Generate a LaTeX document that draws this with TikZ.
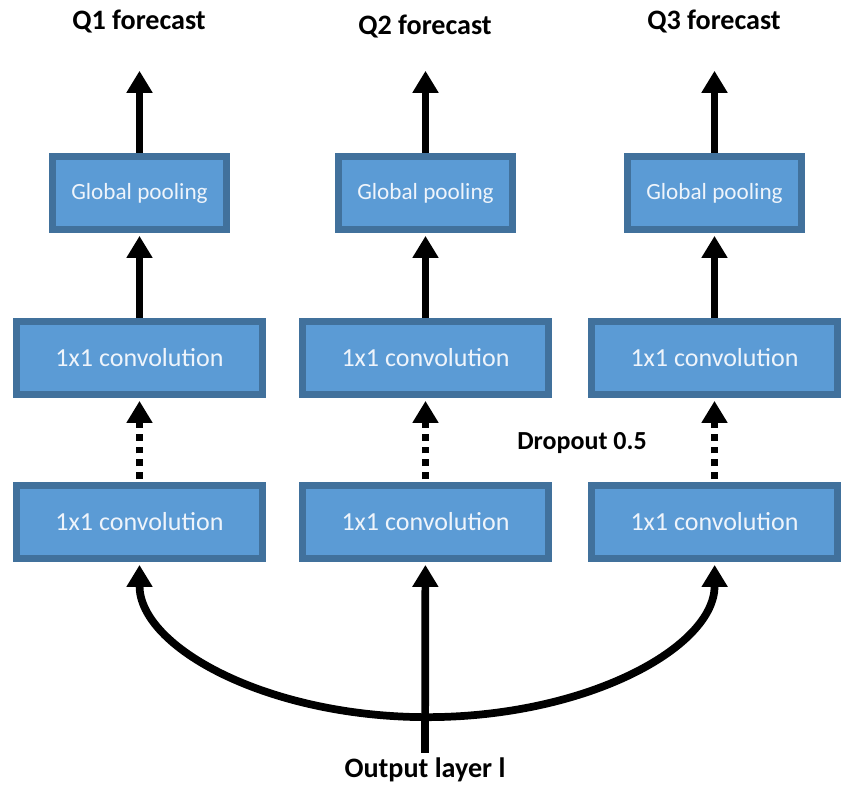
\documentclass[tikz,border=0pt]{standalone}
\usepackage{fontspec}
\usepackage{xcolor}
\usetikzlibrary{arrows.meta}
\setmainfont{Carlito}
\definecolor{boxfill}{HTML}{5B9BD5}
\definecolor{boxline}{HTML}{41719C}
\definecolor{boxtext}{HTML}{EEF4FB}

\begin{document}
\begin{tikzpicture}[x=0.025cm, y=0.025cm,
      blk/.style = {draw=boxline, fill=boxfill, line width=5pt, text=boxtext, minimum height=1.83cm},
      pool/.style = {blk, minimum width=4.35cm, font=\fontsize{16.5}{20}\selectfont},
      conv/.style = {blk, minimum width=6.15cm, font=\fontsize{18.5}{22}\selectfont},
      lbl/.style = {font=\bfseries\fontsize{20}{24}\selectfont},
      arr/.style = {line width=5.5pt, -{Triangle[length=0.55cm,width=0.62cm]}, shorten >=2pt},
      dotarr/.style = {arr, dash pattern=on 0.17cm off 0.15cm, shorten <=2pt}]
      \useasboundingbox (0,0) rectangle (843,786);
      % labels
      \node[lbl] (q1) at (139,764) {Q1 forecast};
      \node[lbl] (q2) at (425,759) {Q2 forecast};
      \node[lbl] (q3) at (714,764) {Q3 forecast};
      \node[lbl] (out) at (425,16) {Output layer l};
      \node[lbl, font=\bfseries\fontsize{18.5}{22}\selectfont] (drop) at (582,343) {Dropout 0.5};
      % blocks
      \node[pool] (p1) at (139.5,593) {Global pooling};
      \node[pool] (p2) at (425.5,593) {Global pooling};
      \node[pool] (p3) at (714.5,593) {Global pooling};
      \node[conv] (c1) at (139.5,428) {1x1 convolution};
      \node[conv] (c2) at (425.5,428) {1x1 convolution};
      \node[conv] (c3) at (714.5,428) {1x1 convolution};
      \node[conv] (b1) at (139.5,264) {1x1 convolution};
      \node[conv] (b2) at (425.5,264) {1x1 convolution};
      \node[conv] (b3) at (714.5,264) {1x1 convolution};
      % arrow ends under the labels
      \coordinate (t1) at (139.5,718);
      \coordinate (t2) at (425.5,718);
      \coordinate (t3) at (714.5,718);
      \foreach \i in {1,2,3} {
            \draw[arr] (p\i) -- (t\i);
            \draw[arr] (c\i) -- (p\i);
            \draw[dotarr] (b\i) -- (c\i);
      }
      \draw[arr] (out) -- (b2);
      \draw[arr, {Triangle[length=0.55cm,width=0.62cm]}-{Triangle[length=0.55cm,width=0.62cm]}, shorten <=2pt]
            (b1.south) arc[start angle=180, end angle=360, x radius=7.1875cm, y radius=3.875cm];
\end{tikzpicture}
\end{document}
